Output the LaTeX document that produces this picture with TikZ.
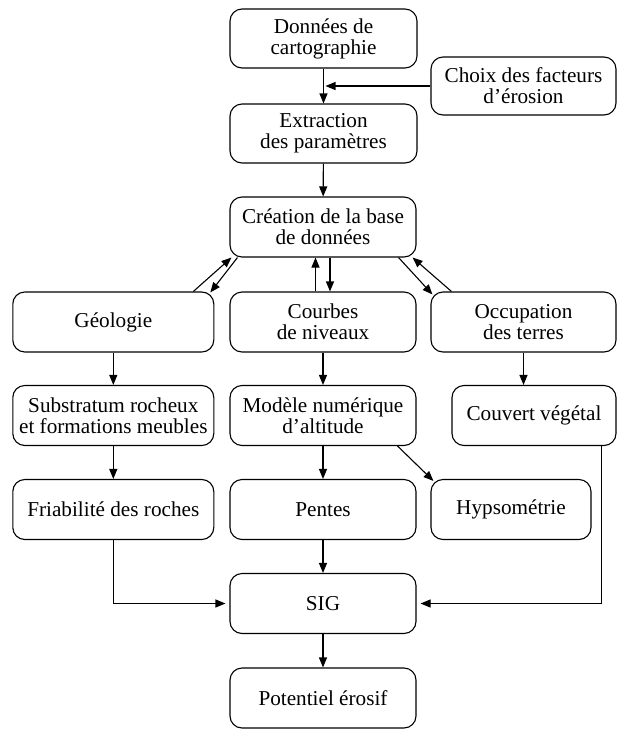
\documentclass[tikz,border=0pt]{standalone}
\usepackage{fontspec}
\setmainfont{Liberation Serif}
\usetikzlibrary{arrows.meta}

\begin{document}
\begin{tikzpicture}[x=1pt,y=-1pt,line width=1.1pt,
    box/.style={draw,rounded corners=12pt,align=center,minimum height=60pt,
                inner sep=2pt,font=\fontsize{21.2}{21}\selectfont},
    fleche/.style={arrows=-{Triangle[length=10pt,width=8pt]}}]

            %\draw [help lines] (0,0) grid (617,729);
            \useasboundingbox (0,0) rectangle (617,729);

            \path   (323.5,38.5) node (donnees) [box,minimum width=187pt,minimum height=59pt] {Données de\\cartographie}
                    (523.5,86) node (choix) [box,minimum width=185pt,minimum height=58pt] {Choix des facteurs\\d’érosion}
                    (323.5,133.5) node (extraction) [box,minimum width=187pt,minimum height=59pt] {Extraction\\des paramètres}
                    (323,227) node (base) [box,minimum width=186pt] {Création de la base\\de données}
                    (113.3,322) node (geologie) [box,minimum width=201pt] {Géologie}
                    (323,322) node (courbes) [box,minimum width=186pt] {Courbes\\de niveaux}
                    (523.5,322) node (occupation) [box,minimum width=185pt] {Occupation\\des terres}
                    (113.3,415.5) node (substratum) [box,minimum width=201pt] {Substratum rocheux\\et formations meubles}
                    (323,415.5) node (mnt) [box,minimum width=186pt] {Modèle numérique\\d’altitude}
                    (534,415.5) node (couvert) [box,minimum width=164pt] {Couvert végétal}
                    (113.3,509.5) node (friabilite) [box,minimum width=201pt] {Friabilité des roches}
                    (323,509.5) node (pentes) [box,minimum width=186pt] {Pentes}
                    (511,509.5) node (hypso) [box,minimum width=160pt] {Hypsométrie}
                    (323,603.5) node (sig) [box,minimum width=186pt] {SIG}
                    (323,698) node (potentiel) [box,minimum width=186pt] {Potentiel érosif};

            \draw[fleche] (donnees) -- (extraction);
            \draw[fleche] (choix.west) -- ([xshift=2pt]choix.west -| donnees.south);
            \draw[fleche] (extraction) -- (base);
            \draw[fleche] ([xshift=-21pt]geologie.north east) -- ([xshift=2pt]base.south west);
            \draw[fleche] ([xshift=8pt]base.south west) -- ([xshift=-4pt,yshift=-1pt]geologie.north east);
            \draw[fleche] ([xshift=-7.5pt]courbes.north) -- ([xshift=-7.5pt]base.south);
            \draw[fleche] ([xshift=7pt]base.south) -- ([xshift=7pt]courbes.north);
            \draw[fleche] ([xshift=-18pt]base.south east) -- ([xshift=2pt,yshift=-3pt]occupation.north west);
            \draw[fleche] ([xshift=21pt]occupation.north west) -- ([xshift=-4pt]base.south east);
            \draw[fleche] (geologie) -- (substratum);
            \draw[fleche] (courbes) -- (mnt);
            \draw[fleche] (occupation.south) -- (occupation.south |- couvert.north);
            \draw[fleche] (substratum) -- (friabilite);
            \draw[fleche] (mnt) -- (pentes);
            \draw[fleche] ([xshift=-19pt]mnt.south east) -- ([xshift=3pt,yshift=-2pt]hypso.north west);
            \draw[fleche] (pentes) -- (sig);
            \draw[fleche] (friabilite.south) |- ([xshift=-4pt]sig.west);
            \draw[fleche] ([xshift=-15pt]couvert.south east) |- ([xshift=4pt]sig.east);
            \draw[fleche] (sig) -- (potentiel);
        \end{tikzpicture}
\end{document}
